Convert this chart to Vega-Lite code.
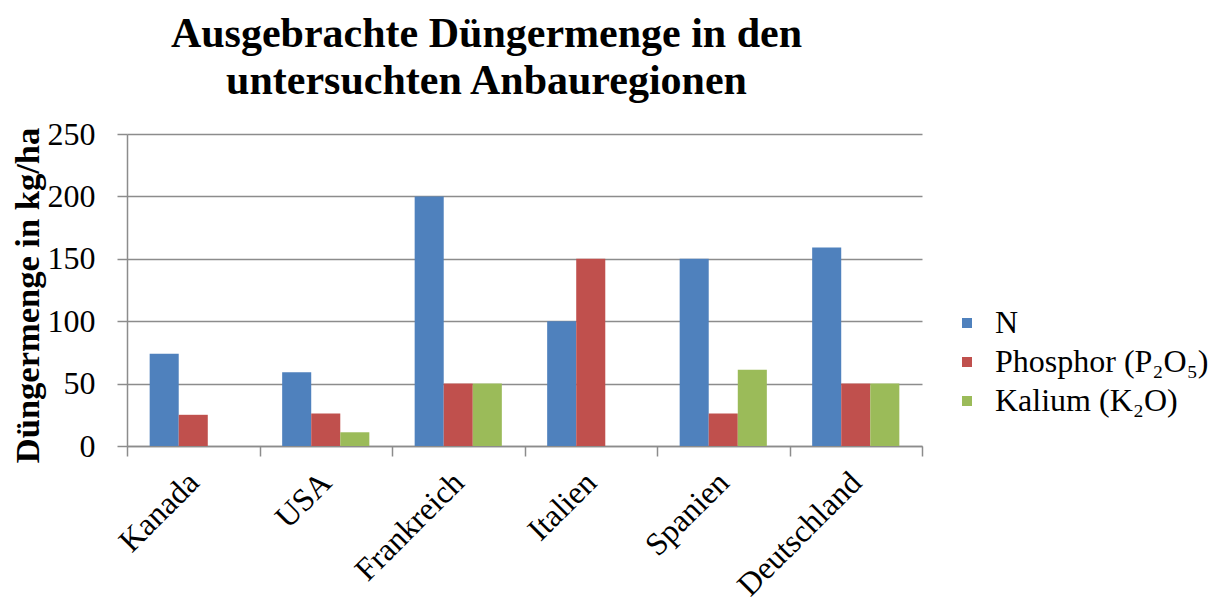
{
  "$schema": "https://vega.github.io/schema/vega-lite/v6.json",
  "width": 795,
  "height": 312,
  "autosize": {"type": "none"},
  "padding": {"left": 127, "top": 134, "right": 290, "bottom": 158},
  "background": "white",
  "title": {
    "text": ["Ausgebrachte Düngermenge in den", "untersuchten Anbauregionen"],
    "font": "Liberation Serif",
    "fontSize": 42,
    "fontWeight": "bold",
    "lineHeight": 47,
    "color": "black",
    "anchor": "middle",
    "dx": -38,
    "offset": 15
  },
  "data": {
    "values": [
      {"country": "Kanada", "nutrient": "N", "value": 74},
      {"country": "Kanada", "nutrient": "Phosphor (P₂O₅)", "value": 25},
      {"country": "Kanada", "nutrient": "Kalium (K₂O)", "value": 0},
      {"country": "USA", "nutrient": "N", "value": 59},
      {"country": "USA", "nutrient": "Phosphor (P₂O₅)", "value": 26},
      {"country": "USA", "nutrient": "Kalium (K₂O)", "value": 11},
      {"country": "Frankreich", "nutrient": "N", "value": 200},
      {"country": "Frankreich", "nutrient": "Phosphor (P₂O₅)", "value": 50},
      {"country": "Frankreich", "nutrient": "Kalium (K₂O)", "value": 50},
      {"country": "Italien", "nutrient": "N", "value": 100},
      {"country": "Italien", "nutrient": "Phosphor (P₂O₅)", "value": 150},
      {"country": "Italien", "nutrient": "Kalium (K₂O)", "value": 0},
      {"country": "Spanien", "nutrient": "N", "value": 150},
      {"country": "Spanien", "nutrient": "Phosphor (P₂O₅)", "value": 26},
      {"country": "Spanien", "nutrient": "Kalium (K₂O)", "value": 61},
      {"country": "Deutschland", "nutrient": "N", "value": 159},
      {"country": "Deutschland", "nutrient": "Phosphor (P₂O₅)", "value": 50},
      {"country": "Deutschland", "nutrient": "Kalium (K₂O)", "value": 50}
    ]
  },
  "mark": {"type": "bar"},
  "encoding": {
    "x": {
      "field": "country",
      "type": "nominal",
      "sort": ["Kanada", "USA", "Frankreich", "Italien", "Spanien", "Deutschland"],
      "scale": {"paddingInner": 0, "paddingOuter": 0},
      "axis": {
        "title": null,
        "labelAngle": -45,
        "labelAlign": "right",
        "labelBaseline": "middle",
        "labelFont": "Liberation Serif",
        "labelFontSize": 32,
        "labelColor": "black",
        "labelPadding": 21,
        "tickBand": "extent",
        "tickSize": 10,
        "tickColor": "#8c8c8c",
        "domainColor": "#8c8c8c",
        "grid": false
      }
    },
    "xOffset": {
      "field": "nutrient",
      "type": "nominal",
      "sort": ["N", "Phosphor (P₂O₅)", "Kalium (K₂O)"],
      "scale": {"paddingInner": 0, "paddingOuter": 0.78}
    },
    "y": {
      "field": "value",
      "type": "quantitative",
      "scale": {"domain": [0, 250], "nice": false},
      "axis": {
        "values": [0, 50, 100, 150, 200, 250],
        "title": "Düngermenge in kg/ha",
        "titleFont": "Liberation Serif",
        "titleFontSize": 34.5,
        "titleFontWeight": "bold",
        "titleColor": "black",
        "titleX": -99,
        "titleY": 161,
        "titleAngle": -90,
        "titleAlign": "center",
        "titleBaseline": "middle",
        "labelFont": "Liberation Serif",
        "labelFontSize": 32,
        "labelColor": "black",
        "labelPadding": 22,
        "tickSize": 10,
        "tickColor": "#8c8c8c",
        "domainColor": "#8c8c8c",
        "gridColor": "#8c8c8c",
        "gridWidth": 1.5
      }
    },
    "color": {
      "field": "nutrient",
      "type": "nominal",
      "sort": ["N", "Phosphor (P₂O₅)", "Kalium (K₂O)"],
      "scale": {
        "domain": ["N", "Phosphor (P₂O₅)", "Kalium (K₂O)"],
        "range": ["#4F81BD", "#C0504D", "#9BBB59"]
      },
      "legend": {
        "title": null,
        "orient": "none",
        "legendX": 824,
        "legendY": 173,
        "symbolType": "square",
        "symbolSize": 100,
        "labelFont": "Liberation Serif",
        "labelFontSize": 32,
        "labelColor": "black",
        "labelOffset": 12,
        "rowPadding": 7,
        "labelLimit": 400
      }
    }
  },
  "config": {
    "view": {"stroke": null},
    "axis": {"domainWidth": 1.5, "tickWidth": 1.5}
  }
}
